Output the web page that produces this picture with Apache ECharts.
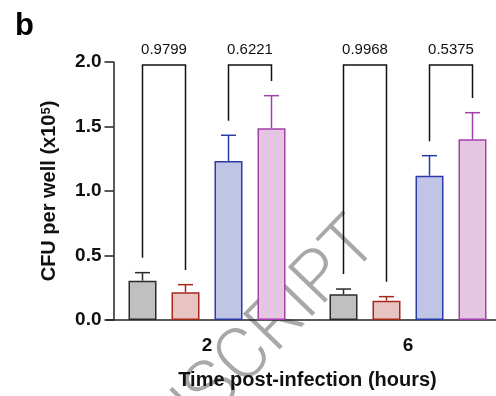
<!DOCTYPE html>
<html><head><meta charset="utf-8">
<script src="https://cdn.jsdelivr.net/npm/echarts@6/dist/echarts.min.js"></script>
<style>html,body{margin:0;padding:0;background:#fff}#c{width:496px;height:396px}</style>
</head><body><div id="c"></div>
<script>
// ---- data ----
const categories = ['2', '6'];
const grayMean = [0.305, 0.199];
const grayUpper = [0.367, 0.240];
const redMean = [0.215, 0.150];
const redUpper = [0.274, 0.181];
const blueMean = [1.233, 1.119];
const blueUpper = [1.432, 1.274];
const pinkMean = [1.486, 1.401];
const pinkUpper = [1.739, 1.607];
const yMin = 0, yMax = 2, yInterval = 0.5;
// significance brackets
const pValues = ['0.9799', '0.6221', '0.9968', '0.5375'];
const bracketCat = [0, 0, 1, 1];
const bracketLeftSeries = [0, 2, 0, 2];
const bracketRightSeries = [1, 3, 1, 3];
const bracketLeftEnd = [0.483, 1.545, 0.357, 1.385];
const bracketRightEnd = [0.388, 1.853, 0.297, 1.721];
const bracketTop = [1.977, 1.977, 1.977, 1.977];

// ---- style ----
const FONT = 'Liberation Sans, Arial, Helvetica, sans-serif';
const BW = 28, GAP = 15;
const fills = ['#c0c0c0', '#e7c4c1', '#c0c5e5', '#e6c5e2'];
const strokes = ['#2a2a2a', '#a8281c', '#2a3aa6', '#a43fae'];
const means = [grayMean, redMean, blueMean, pinkMean];
const uppers = [grayUpper, redUpper, blueUpper, pinkUpper];
const N = means.length;

function xOffset(s) {
  const total = N * BW + (N - 1) * GAP;
  return -total / 2 + s * (BW + GAP) + BW / 2;
}

const barSeries = means.map((m, s) => ({
  type: 'bar',
  data: m,
  barWidth: BW,
  barGap: (GAP / BW * 100) + '%',
  itemStyle: { color: fills[s], borderColor: strokes[s], borderWidth: 1.5 },
  z: 3
}));

const errData = [];
uppers.forEach((u, s) => u.forEach((v, c) => errData.push([c, v, means[s][c], s])));

const errSeries = {
  type: 'custom',
  data: errData,
  z: 4,
  renderItem: function (params, api) {
    const c = api.value(0), up = api.value(1), m = api.value(2), s = api.value(3);
    const p1 = api.coord([c, m]);
    const p2 = api.coord([c, up]);
    const x = p1[0] + xOffset(s);
    const st = { stroke: strokes[s], lineWidth: 1.5, fill: null };
    return {
      type: 'group',
      children: [
        { type: 'line', shape: { x1: x, y1: p1[1], x2: x, y2: p2[1] }, style: st },
        { type: 'line', shape: { x1: x - 7.5, y1: p2[1], x2: x + 7.5, y2: p2[1] }, style: st }
      ]
    };
  }
};

const brData = pValues.map((p, i) => [bracketCat[i], bracketTop[i], bracketLeftEnd[i], bracketRightEnd[i], bracketLeftSeries[i], bracketRightSeries[i], i]);
const bracketSeries = {
  type: 'custom',
  data: brData,
  z: 5,
  renderItem: function (params, api) {
    const c = api.value(0), top = api.value(1), le = api.value(2), re = api.value(3);
    const ls = api.value(4), rs = api.value(5), i = api.value(6);
    const pt = api.coord([c, top]);
    const pl = api.coord([c, le]);
    const pr = api.coord([c, re]);
    const xl = pt[0] + xOffset(ls), xr = pt[0] + xOffset(rs);
    return {
      type: 'group',
      children: [
        { type: 'polyline', shape: { points: [[xl, pl[1]], [xl, pt[1]], [xr, pt[1]], [xr, pr[1]]] },
          style: { stroke: '#111', lineWidth: 1.5, fill: null } },
        { type: 'text', style: { text: pValues[i], x: (xl + xr) / 2, y: pt[1] - 15, align: 'center', verticalAlign: 'middle',
          fontSize: 15, fontFamily: FONT, fill: '#111' } }
      ]
    };
  }
};

const chart = echarts.init(document.getElementById('c'), null, { renderer: 'canvas' });
chart.setOption({
  backgroundColor: '#fff',
  animation: false,
  grid: { left: 106.5, top: 62, width: 402, height: 258, containLabel: false, outerBoundsMode: 'none' },
  xAxis: {
    type: 'category',
    data: categories,
    axisLine: { lineStyle: { color: '#222', width: 1.5 } },
    axisTick: { alignWithLabel: true, length: 9, lineStyle: { color: '#222', width: 1.5 } },
    axisLabel: { color: '#111', fontSize: 19, fontWeight: 'bold', fontFamily: FONT, margin: 16 },
    name: 'Time post-infection (hours)',
    nameLocation: 'middle',
    nameGap: 50,
    nameTextStyle: { color: '#111', fontSize: 20, fontWeight: 'bold', fontFamily: FONT }
  },
  yAxis: {
    type: 'value',
    min: yMin, max: yMax, interval: yInterval,
    offset: -7,
    splitLine: { show: false },
    axisLine: { show: true, lineStyle: { color: '#222', width: 1.5 } },
    axisTick: { show: true, length: 9, lineStyle: { color: '#222', width: 1.5 } },
    axisLabel: { color: '#111', fontSize: 19, fontWeight: 'bold', fontFamily: FONT, margin: 12,
      formatter: v => v.toFixed(1) },
    name: 'CFU per well (x10{s|5})',
    nameLocation: 'middle',
    nameGap: 54,
    nameTextStyle: { color: '#111', fontSize: 20, fontWeight: 'bold', fontFamily: FONT,
      rich: { s: { fontSize: 13, fontWeight: 'bold', fontFamily: FONT, color: '#111', verticalAlign: 'top' } } }
  },
  graphic: [
    { type: 'text', left: 15, top: 11, style: { text: 'b', font: 'bold 31px ' + FONT, fill: '#000' } },
    { type: 'text', x: 368, y: 232, rotation: 46 * Math.PI / 180, z: -10, silent: true,
      style: { text: 'ACCEPTED MANUSCRIPT', align: 'right', verticalAlign: 'middle',
        font: '300 72px Roboto, sans-serif', fill: '#a8a8a8' } }
  ],
  series: barSeries.concat([errSeries, bracketSeries])
});
</script></body></html>
